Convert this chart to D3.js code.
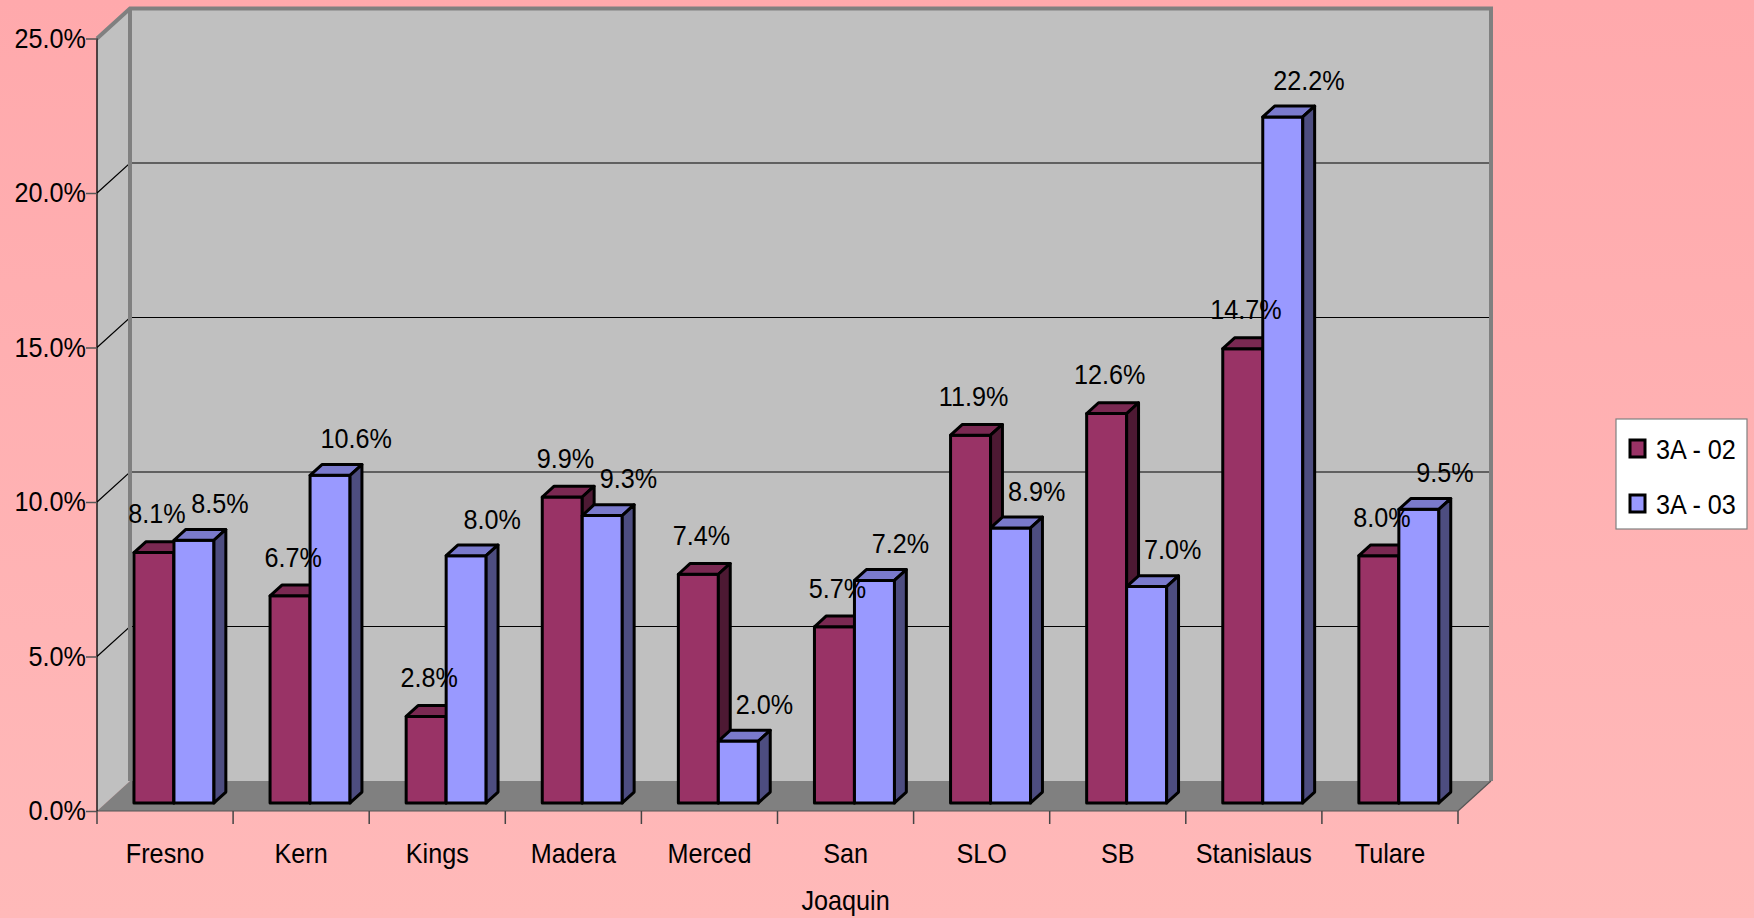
<!DOCTYPE html>
<html>
<head>
<meta charset="utf-8">
<script src="https://cdn.jsdelivr.net/npm/d3@7"></script>
<style>
    body { margin: 0; }
    svg { display: block; }
    text { font-family: "Liberation Sans", Arial, sans-serif; font-size: 28px; fill: #000; }
</style>
</head>
<body>
<div id="chart"></div>
<script>
// data
var categories = ["Fresno", "Kern", "Kings", "Madera", "Merced", "San Joaquin", "SLO", "SB", "Stanislaus", "Tulare"];
var seriesNames = ["3A - 02", "3A - 03"];
var values02 = [0.081, 0.067, 0.028, 0.099, 0.074, 0.057, 0.119, 0.126, 0.147, 0.080];
var values03 = [0.085, 0.106, 0.080, 0.093, 0.020, 0.072, 0.089, 0.070, 0.222, 0.095];
var yTicks = [0, 0.05, 0.10, 0.15, 0.20, 0.25];

var width = 1754;
var height = 918;

// front plane of the 3d box, and the depth shift to the back wall
var boxL = 97, boxR = 1458, boxT = 38.5, boxB = 811;
var DX = 33, DY = 30;
// depth of the bars inside the box (0 = front, 1 = back)
var z0 = 0.27, z1 = 0.63;
var sx = 0.9; // text is drawn a bit narrow

var front = ["#993366", "#9999FF"];
var topCol = ["#7A2952", "#7A7ACC"];
var sideCol = ["#4D1933", "#4D4D80"];

var svg = d3.select("#chart").append("svg")
    .attr("width", width)
    .attr("height", height)

var grad = svg.append("defs").append("linearGradient")
    .attr("id", "bg")
    .attr("x1", 0).attr("y1", 0).attr("x2", 0).attr("y2", 1)
grad.append("stop").attr("offset", "0%").attr("stop-color", "#FFA9AC")
grad.append("stop").attr("offset", "100%").attr("stop-color", "#FFB9B9")

svg.append("rect")
    .attr("width", width)
    .attr("height", height)
    .attr("fill", "url(#bg)")

var x = d3.scaleBand()
    .domain(categories)
    .range([boxL, boxR])

var xs = d3.scaleBand()
    .domain([0, 1])
    .range([-40, 40])

var y = d3.scaleLinear()
    .domain([0, 0.25])
    .range([boxB, boxT]);

function P(px, py, z) {
    return [px + z * DX, py - z * DY];
}
function pts(arr) {
    return arr.map(function (p) { return p.join(","); }).join(" ");
}

// walls
var yb = y(0), yt = y(0.25);
svg.append("polygon")
    .attr("points", pts([P(boxL, yt, 0), P(boxL, yt, 1), P(boxL, yb, 1), P(boxL, yb, 0)]))
    .attr("fill", "#C0C0C0")
svg.append("polygon")
    .attr("points", pts([P(boxL, yt, 1), P(boxR, yt, 1), P(boxR, yb, 1), P(boxL, yb, 1)]))
    .attr("fill", "#C0C0C0")
svg.append("polygon")
    .attr("points", pts([P(boxL, yb, 0), P(boxR, yb, 0), P(boxR, yb, 1), P(boxL, yb, 1)]))
    .attr("fill", "#808080")

// gridlines on back and side wall
var grid = svg.append("g")
grid.selectAll(".gb")
    .data(yTicks.filter(function (d) { return d > 0 && d < 0.25; }))
    .enter().append("polyline")
    .attr("points", function (d) {
        return pts([P(boxL, y(d), 0), P(boxL, y(d), 1), P(boxR, y(d), 1)]);
    })
    .attr("fill", "none")
    .attr("stroke", "#000")
    .attr("stroke-width", 1.2)

// wall borders
svg.append("polyline")
    .attr("points", pts([P(boxL, yt, 0), P(boxL, yt, 1), P(boxR, yt, 1), P(boxR, yb, 1)]))
    .attr("fill", "none")
    .attr("stroke", "#808080")
    .attr("stroke-width", 4)
svg.append("line")
    .attr("x1", P(boxL, yt, 1)[0]).attr("y1", P(boxL, yt, 1)[1])
    .attr("x2", P(boxL, yb, 1)[0]).attr("y2", P(boxL, yb, 1)[1])
    .attr("stroke", "#808080")
    .attr("stroke-width", 4)
svg.append("line")
    .attr("x1", boxR).attr("y1", yb)
    .attr("x2", P(boxR, yb, 1)[0]).attr("y2", P(boxR, yb, 1)[1])
    .attr("stroke", "#555")
    .attr("stroke-width", 1.2)
svg.append("line")
    .attr("x1", boxL).attr("y1", yb)
    .attr("x2", boxR).attr("y2", yb)
    .attr("stroke", "#555")
    .attr("stroke-width", 1.2)
svg.append("line")
    .attr("x1", boxL).attr("y1", yt)
    .attr("x2", boxL).attr("y2", yb)
    .attr("stroke", "#000")
    .attr("stroke-width", 1.3)

// y axis
var yAxis = svg.append("g")
    .attr("class", "y-axis")
    .attr("transform", "translate(" + boxL + ",0)")
    .call(d3.axisLeft(y).tickValues(yTicks).tickFormat(d3.format(".1%")).tickSize(11).tickPadding(0))
yAxis.select(".domain").remove()
yAxis.selectAll("line").attr("stroke", "#555").attr("stroke-width", 1.5)
yAxis.selectAll("text")
    .attr("x", -11 / sx)
    .attr("transform", "scale(" + sx + ",1)")
    .style("font-size", "28px")
    .style("font-family", "Liberation Sans, Arial, sans-serif")
    .attr("fill", "#000")

// x axis ticks on band edges
svg.selectAll(".xtick")
    .data(d3.range(categories.length + 1))
    .enter().append("line")
    .attr("x1", function (d) { return boxL + d * x.step(); })
    .attr("x2", function (d) { return boxL + d * x.step(); })
    .attr("y1", yb)
    .attr("y2", yb + 13)
    .attr("stroke", "#444")
    .attr("stroke-width", 1.5)

// category labels, long names wrap
var xl = svg.selectAll(".xlab")
    .data(categories)
    .enter().append("text")
    .attr("class", "xlab")
    .attr("text-anchor", "middle")
    .attr("transform", function (d) {
        return "translate(" + (x(d) + x.bandwidth() / 2) + "," + 863 + ") scale(" + sx + ",1)";
    })
xl.selectAll("tspan")
    .data(function (d) { return d.split(" "); })
    .enter().append("tspan")
    .attr("x", 0)
    .attr("dy", function (d, i) { return i === 0 ? 0 : 47; })
    .text(function (d) { return d; })

// bars
var data = [];
categories.forEach(function (c, i) {
    data.push({ cat: c, s: 0, v: values02[i] });
    data.push({ cat: c, s: 1, v: values03[i] });
});

var bars = svg.selectAll(".bar")
    .data(data)
    .enter().append("g")
    .attr("class", "bar")
    .attr("stroke", "#000")
    .attr("stroke-width", 3)
    .attr("stroke-linejoin", "round")

function x0(d) { return x(d.cat) + x.bandwidth() / 2 + xs(d.s); }
function x1(d) { return x0(d) + xs.bandwidth(); }

bars.append("polygon")
    .attr("points", function (d) {
        return pts([P(x0(d), y(0), z0), P(x1(d), y(0), z0), P(x1(d), y(d.v), z0), P(x0(d), y(d.v), z0)]);
    })
    .attr("fill", function (d) { return front[d.s]; })
bars.append("polygon")
    .attr("points", function (d) {
        return pts([P(x0(d), y(d.v), z0), P(x1(d), y(d.v), z0), P(x1(d), y(d.v), z1), P(x0(d), y(d.v), z1)]);
    })
    .attr("fill", function (d) { return topCol[d.s]; })
bars.append("polygon")
    .attr("points", function (d) {
        return pts([P(x1(d), y(0), z0), P(x1(d), y(0), z1), P(x1(d), y(d.v), z1), P(x1(d), y(d.v), z0)]);
    })
    .attr("fill", function (d) { return sideCol[d.s]; })

// value labels
var fmt = d3.format(".1%");
svg.selectAll(".vlab")
    .data(data)
    .enter().append("text")
    .attr("class", "vlab")
    .attr("text-anchor", "middle")
    .attr("dy", "0.35em")
    .attr("transform", function (d) {
        var c = x(d.cat) + x.bandwidth() / 2;
        var lx = d.s === 0 ? c - 8 : c + 55;
        var ly = P(0, y(d.v), z0)[1] - (d.s === 0 ? 39 : 37);
        return "translate(" + lx + "," + ly + ") scale(" + sx + ",1)";
    })
    .text(function (d) { return fmt(d.v); })

// legend
var lg = svg.append("g")
    .attr("transform", "translate(1616,419)")
lg.append("rect")
    .attr("width", 131)
    .attr("height", 110)
    .attr("fill", "#fff")
    .attr("stroke", "#808080")
    .attr("stroke-width", 1.2)
var li = lg.selectAll(".li")
    .data(seriesNames)
    .enter().append("g")
    .attr("transform", function (d, i) { return "translate(0," + (i * 55) + ")"; })
li.append("rect")
    .attr("x", 14)
    .attr("y", 21)
    .attr("width", 15)
    .attr("height", 17)
    .attr("fill", function (d, i) { return front[i]; })
    .attr("stroke", "#000")
    .attr("stroke-width", 3)
li.append("text")
    .attr("transform", "translate(40,40) scale(" + sx + ",1)")
    .text(function (d) { return d; })
</script>
</body>
</html>
